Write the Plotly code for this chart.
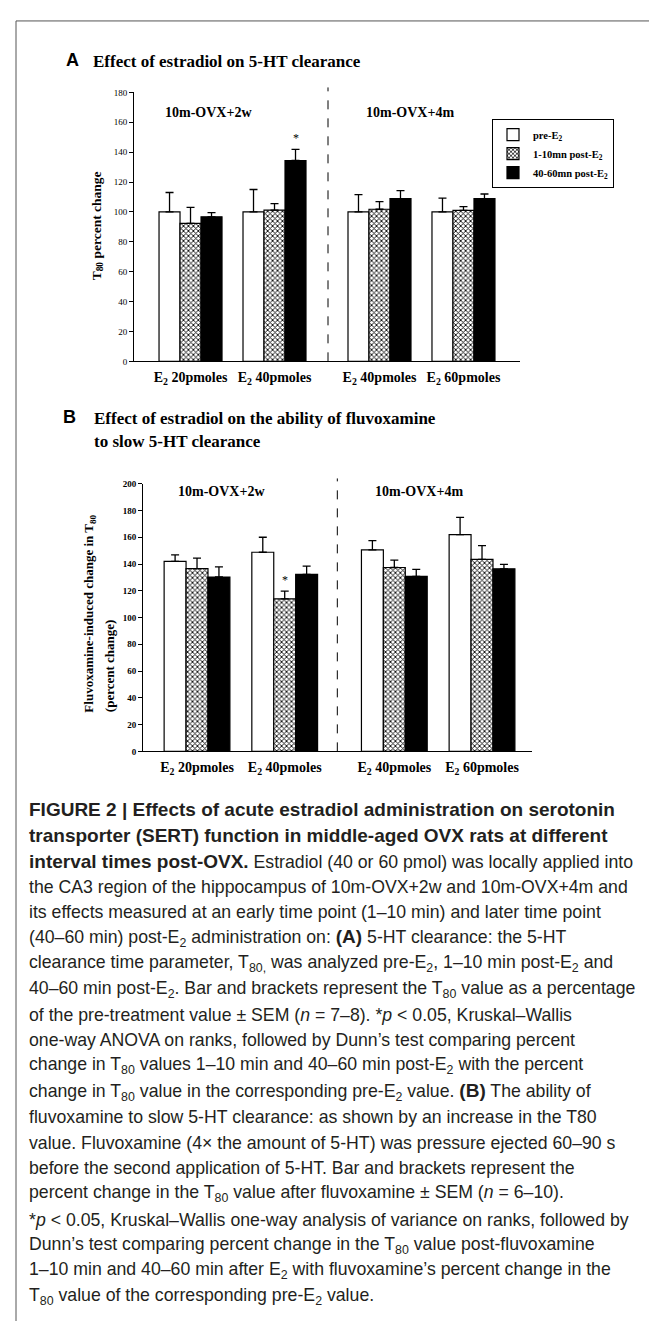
import plotly.graph_objects as go

W, H = 657, 1321
def px(x): return x / W
def py(y): return 1 - y / H

# ---------------- data ----------------
dose_labels_A = ["E<sub>2</sub> 20pmoles", "E<sub>2</sub> 40pmoles", "E<sub>2</sub> 40pmoles", "E<sub>2</sub> 60pmoles"]
dose_labels_B = ["E<sub>2</sub> 20pmoles", "E<sub>2</sub> 40pmoles", "E<sub>2</sub> 40pmoles", "E<sub>2</sub> 60pmoles"]
series_names = ["pre-E<sub>2</sub>", "1-10mn post-E<sub>2</sub>", "40-60mn post-E<sub>2</sub>"]

A_pre = [100, 100, 100, 100]
A_pre_err = [13, 15, 11.6, 9.3]
A_early = [92.3, 101.2, 101.8, 101.1]
A_early_err = [10.7, 4.3, 5.1, 2.5]
A_late = [96.7, 134.4, 108.9, 108.9]
A_late_err = [2.8, 7.4, 5.3, 3.1]

B_pre = [141.9, 148.8, 150.5, 161.9]
B_pre_err = [4.9, 11.2, 7.0, 12.9]
B_early = [136.5, 114.0, 137.4, 143.4]
B_early_err = [7.9, 5.7, 5.5, 10.3]
B_late = [130.3, 132.3, 130.8, 136.4]
B_late_err = [7.6, 6.1, 5.2, 3.3]

# significance marks: (group index, series index)
sig_A = [(1, 2)]
sig_B = [(1, 1)]

# ---------------- layout constants ----------------
pos = [0, 1, 2.25, 3.25]   # group positions (gap for the age split)
SERIF = "Liberation Serif"
SANS = "Liberation Sans"

styles = [
    dict(color="white", line=dict(color="black", width=1.2)),
    dict(color="white", line=dict(color="black", width=1.2),
         pattern=dict(shape="x", size=3.5, solidity=0.45, fgcolor="black", bgcolor="white", fillmode="replace")),
    dict(color="black", line=dict(color="black", width=1.2)),
]

fig = go.Figure()

def add_panel(vals, errs, xa, ya, legend):
    for i, (v, e) in enumerate(zip(vals, errs)):
        fig.add_trace(go.Bar(
            x=pos, y=v, name=series_names[i], marker=styles[i],
            xaxis=xa, yaxis=ya, showlegend=legend,
            error_y=dict(type="data", symmetric=False, array=e, arrayminus=[0] * len(e),
                         color="black", thickness=1.3, width=4),
        ))

add_panel([A_pre, A_early, A_late], [A_pre_err, A_early_err, A_late_err], "x", "y", True)
add_panel([B_pre, B_early, B_late], [B_pre_err, B_early_err, B_late_err], "x2", "y2", False)

axis_common = dict(showline=True, linecolor="black", linewidth=1, showgrid=False, zeroline=False)

fig.update_layout(
    width=W, height=H, margin=dict(l=0, r=0, t=0, b=0),
    paper_bgcolor="white", plot_bgcolor="white",
    barmode="group", bargap=0.25, bargroupgap=0,
    font=dict(family=SERIF, color="black"),
    xaxis=dict(domain=[px(126), px(512)], range=[-0.673, 3.923], anchor="y",
               tickmode="array", tickvals=pos, ticktext=dose_labels_A, ticks="",
               tickfont=dict(family=SERIF, size=14, weight="bold"), ticklabelstandoff=3, **axis_common),
    yaxis=dict(domain=[py(351), py(80)], range=[0, 180], anchor="x", dtick=20,
               ticks="outside", ticklen=4, tickwidth=1, tickcolor="black",
               tickfont=dict(family=SERIF, size=9), **axis_common),
    xaxis2=dict(domain=[px(135), px(524)], range=[-0.616, 3.82], anchor="y2",
                tickmode="array", tickvals=pos, ticktext=dose_labels_B, ticks="",
                tickfont=dict(family=SERIF, size=14, weight="bold"), ticklabelstandoff=3, **axis_common),
    yaxis2=dict(domain=[py(744), py(474.3)], range=[0, 200], anchor="x2", dtick=20,
                ticks="outside", ticklen=4, tickwidth=1, tickcolor="black",
                tickfont=dict(family=SERIF, size=9, weight="bold"), **axis_common),
    legend=dict(x=px(484), y=py(107), xanchor="left", yanchor="top",
                bordercolor="black", borderwidth=1, bgcolor="white",
                font=dict(family=SERIF, size=10.5, weight="bold"),
                tracegroupgap=0, itemwidth=30, traceorder="normal"),
)

# dashed separators
fig.add_shape(type="line", xref="x", yref="paper", x0=1.637, x1=1.637, y0=py(351), y1=py(75),
              line=dict(color="black", width=1, dash="dash"))
fig.add_shape(type="line", xref="x2", yref="paper", x0=1.6, x1=1.6, y0=py(744), y1=py(469),
              line=dict(color="black", width=1, dash="dash"))

# frame
for (x0, y0, x1, y1) in [(8, 8, 650, 8), (8, 8, 8, 1330), (650, 8, 650, 1330)]:
    fig.add_shape(type="line", xref="paper", yref="paper", x0=px(x0), y0=py(y0), x1=px(x1), y1=py(y1),
                  line=dict(color="#555", width=1))

def ann(text, x, y, size, family=SERIF, bold=False, xanchor="left", yanchor="middle", angle=0, color="black", **kw):
    fig.add_annotation(text=text, x=px(x), y=py(y), xref="paper", yref="paper", showarrow=False,
                       xanchor=xanchor, yanchor=yanchor, textangle=angle,
                       font=dict(family=family, size=size, color=color, weight="bold" if bold else "normal"), **kw)

# panel headers
ann("A", 56, 47, 18, family=SANS, bold=True)
ann("Effect of estradiol on 5-HT clearance", 83, 49, 17, bold=True)
ann("B", 53, 407, 18, family=SANS, bold=True)
ann("Effect of estradiol on the ability of fluvoxamine", 84, 409, 17, bold=True)
ann("to slow 5-HT clearance", 84, 432, 17, bold=True)

# subgroup labels
ann("10m-OVX+2w", 200, 100, 14, bold=True, xanchor="center")
ann("10m-OVX+4m", 402, 100, 14, bold=True, xanchor="center")
ann("10m-OVX+2w", 213, 482, 14, bold=True, xanchor="center")
ann("10m-OVX+4m", 411, 482, 14, bold=True, xanchor="center")

# y titles
ann("T<sub>80</sub> percent change", 89, 215, 13.5, bold=True, xanchor="center", yanchor="middle", angle=-90)
ann("Fluvoxamine-induced change in T<sub>80</sub>", 82, 707, 13, bold=True, xanchor="center", yanchor="bottom", angle=-90)
ann("(percent change)", 101, 707, 13, bold=True, xanchor="center", yanchor="bottom", angle=-90)

# significance asterisks (placed above the error cap)
panelA = [A_pre, A_early, A_late], [A_pre_err, A_early_err, A_late_err]
panelB = [B_pre, B_early, B_late], [B_pre_err, B_early_err, B_late_err]
for (vals, errs), sigs, xr, yr in [(panelA, sig_A, "x", "y"), (panelB, sig_B, "x2", "y2")]:
    for g, s in sigs:
        fig.add_annotation(text="*", x=pos[g] + (s - 1) * 0.25, y=vals[s][g] + errs[s][g],
                           xref=xr, yref=yr, showarrow=False, yanchor="bottom", yshift=2,
                           font=dict(family=SERIF, size=12, color="black"))

# caption
def B(t):
    return '<span style="font-size:19px"><b>' + t + '</b></span>'

caption = [
    B("FIGURE 2 | Effects of acute estradiol administration on serotonin"),
    B("transporter (SERT) function in middle-aged OVX rats at different"),
    B("interval times post-OVX.") + " Estradiol (40 or 60 pmol) was locally applied into",
    "the CA3 region of the hippocampus of 10m-OVX+2w and 10m-OVX+4m and",
    "its effects measured at an early time point (1–10 min) and later time point",
    "(40–60 min) post-E<sub>2</sub> administration on: " + B("(A)") + " 5-HT clearance: the 5-HT",
    "clearance time parameter, T<sub>80,</sub> was analyzed pre-E<sub>2</sub>, 1–10 min post-E<sub>2</sub> and",
    "40–60 min post-E<sub>2</sub>. Bar and brackets represent the T<sub>80</sub> value as a percentage",
    "of the pre-treatment value ± SEM (<i>n</i> = 7–8). *<i>p</i> &lt; 0.05, Kruskal–Wallis",
    "one-way ANOVA on ranks, followed by Dunn’s test comparing percent",
    "change in T<sub>80</sub> values 1–10 min and 40–60 min post-E<sub>2</sub> with the percent",
    "change in T<sub>80</sub> value in the corresponding pre-E<sub>2</sub> value. " + B("(B)") + " The ability of",
    "fluvoxamine to slow 5-HT clearance: as shown by an increase in the T80",
    "value. Fluvoxamine (4× the amount of 5-HT) was pressure ejected 60–90 s",
    "before the second application of 5-HT. Bar and brackets represent the",
    "percent change in the T<sub>80</sub> value after fluvoxamine ± SEM (<i>n</i> = 6–10).",
    "*<i>p</i> &lt; 0.05, Kruskal–Wallis one-way analysis of variance on ranks, followed by",
    "Dunn’s test comparing percent change in the T<sub>80</sub> value post-fluvoxamine",
    "1–10 min and 40–60 min after E<sub>2</sub> with fluvoxamine’s percent change in the",
    "T<sub>80</sub> value of the corresponding pre-E<sub>2</sub> value.",
]
for i, line in enumerate(caption):
    ann(line, 19, 803 + i * 25.8, 17.7, family=SANS, color="#231f20")

fig.write_html("out.html")
